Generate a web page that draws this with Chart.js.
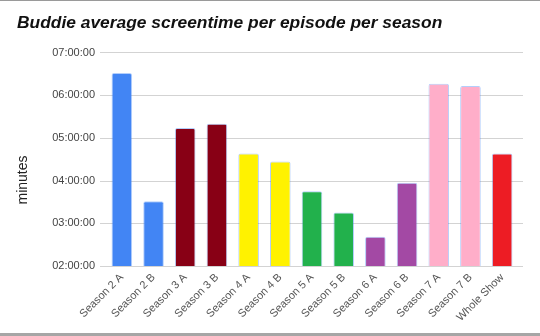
<!DOCTYPE html>
<html>
<head>
<meta charset="utf-8">
<script src="https://cdn.jsdelivr.net/npm/chart.js@4"></script>
<style>
  html, body { margin: 0; padding: 0; background: #fff; }
  #wrap { position: relative; width: 540px; height: 336px; overflow: hidden; }
  #top { position: absolute; left: 0; top: 0; width: 540px; height: 1px; background: #9a9a9a; }
  #bot { position: absolute; left: 0; bottom: 0; width: 540px; height: 3px; background: #a6a6a6; }
</style>
</head>
<body>
<div id="wrap">
  <canvas id="c" width="540" height="336"></canvas>
  <div id="top"></div>
  <div id="bot"></div>
</div>
<script>
const chartTitle = "Buddie average screentime per episode per season";
const yAxisTitle = "minutes";
const categories = ["Season 2 A", "Season 2 B", "Season 3 A", "Season 3 B", "Season 4 A", "Season 4 B", "Season 5 A", "Season 5 B", "Season 6 A", "Season 6 B", "Season 7 A", "Season 7 B", "Whole Show"];
const screentime = ["06:31:00", "03:31:00", "05:14:00", "05:20:00", "04:38:00", "04:27:00", "03:45:00", "03:15:00", "02:41:00", "03:57:00", "06:16:00", "06:13:00", "04:38:00"];
const barColors = ["#4285f4", "#4285f4", "#880015", "#880015", "#fff200", "#fff200", "#22b14c", "#22b14c", "#a349a4", "#a349a4", "#ffaec9", "#ffaec9", "#ed1c24"];
const yTickLabels = ["02:00:00", "03:00:00", "04:00:00", "05:00:00", "06:00:00", "07:00:00"];

function toHours(s) {
  const p = s.split(":").map(Number);
  return p[0] + p[1] / 60 + (p[2] || 0) / 3600;
}
const values = screentime.map(toHours);
const yTickValues = yTickLabels.map(toHours);

const gridPlugin = {
  id: "extGrid",
  beforeDatasetsDraw(chart) {
    const ctx = chart.ctx, y = chart.scales.y, a = chart.chartArea;
    ctx.save();
    ctx.strokeStyle = "#d3d3d3";
    ctx.lineWidth = 1;
    yTickValues.forEach(v => {
      const py = Math.round(y.getPixelForValue(v)) + 0.5;
      ctx.beginPath();
      ctx.moveTo(a.left - 6, py);
      ctx.lineTo(a.right + 5, py);
      ctx.stroke();
    });
    ctx.restore();
  },
  afterDraw(chart) {
    const ctx = chart.ctx;
    ctx.save();
    ctx.translate(23, 180);
    ctx.rotate(-Math.PI / 2);
    ctx.fillStyle = "#222";
    ctx.font = "14px 'Liberation Sans', Arial, sans-serif";
    ctx.textAlign = "center";
    ctx.textBaseline = "middle";
    ctx.fillText(yAxisTitle, 0, 0);
    ctx.restore();
  }
};

new Chart(document.getElementById("c"), {
  type: "bar",
  data: {
    labels: categories,
    datasets: [{
      data: values,
      backgroundColor: barColors,
      borderColor: "rgba(66,133,244,0.4)",
      borderWidth: 1,
      borderRadius: { topLeft: 2, topRight: 2, bottomLeft: 0, bottomRight: 0 },
      borderSkipped: "bottom",
      categoryPercentage: 1,
      barPercentage: 0.65
    }]
  },
  plugins: [gridPlugin],
  options: {
    responsive: false,
    animation: false,
    devicePixelRatio: 1,
    layout: { padding: { left: 17, right: 22, top: 0, bottom: 0 } },
    plugins: {
      legend: { display: false },
      tooltip: { enabled: false },
      title: {
        display: true,
        text: chartTitle,
        align: "start",
        color: "#111",
        font: { family: "Liberation Sans, Arial, sans-serif", size: 17.4, weight: "bold", style: "italic", lineHeight: 1.2 },
        padding: { top: 13, bottom: 18.6 }
      }
    },
    scales: {
      x: {
        grid: { display: false, drawTicks: false },
        border: { display: false },
        ticks: {
          color: "#555",
          font: { family: "Liberation Sans, Arial, sans-serif", size: 11 },
          minRotation: 45,
          maxRotation: 45,
          padding: 5,
          autoSkip: false
        },
        afterFit(scale) { scale.height = 70; }
      },
      y: {
        min: 2,
        max: 7,
        afterBuildTicks(scale) { scale.ticks = yTickValues.map(v => ({ value: v })); },
        grid: { display: false, drawTicks: false },
        border: { display: false },
        ticks: {
          color: "#444",
          font: { family: "Liberation Sans, Arial, sans-serif", size: 11 },
          padding: 11,
          callback: (v, i) => yTickLabels[i]
        },
        title: { display: false },
        afterFit(scale) { scale.width = 89; }
      }
    }
  }
});
</script>
</body>
</html>
